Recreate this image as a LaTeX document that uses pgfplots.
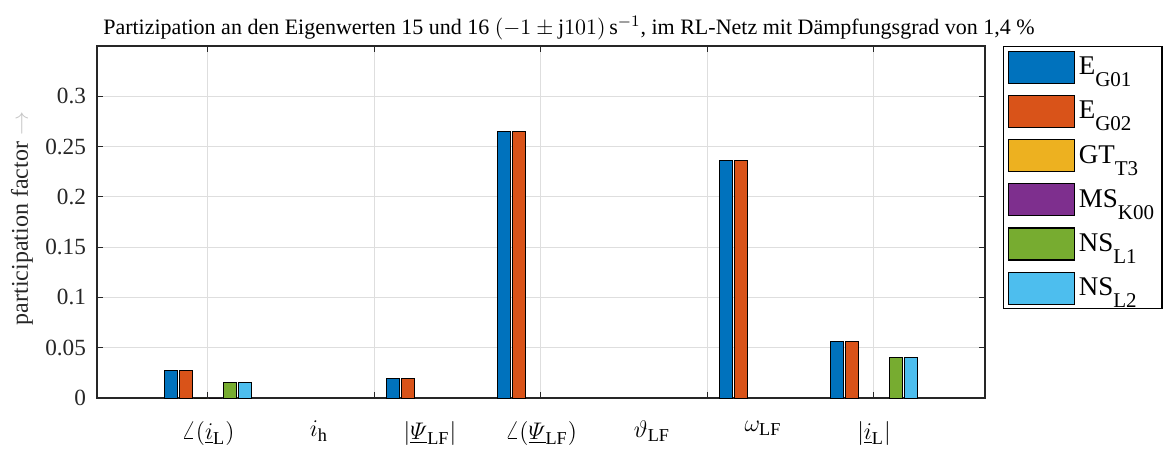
\documentclass[border=0pt]{standalone}
\usepackage{amsmath}
\usepackage{fontspec}
\setmainfont{Liberation Serif}
\usepackage{pgfplots}
\pgfplotsset{compat=1.18}
\definecolor{c1}{rgb}{0,0.447,0.741}
\definecolor{c2}{rgb}{0.85,0.325,0.098}
\definecolor{c3}{rgb}{0.929,0.694,0.125}
\definecolor{c4}{rgb}{0.494,0.184,0.556}
\definecolor{c5}{rgb}{0.466,0.674,0.188}
\definecolor{c6}{rgb}{0.301,0.745,0.933}
\definecolor{axgray}{rgb}{0.15,0.15,0.15}
\definecolor{gridgray}{rgb}{0.87,0.87,0.87}
\newcommand\sub[1]{\raisebox{-6pt}{\fontsize{10.5}{12}\selectfont #1}}
\pgfplotsset{ybar legend/.style={legend image code/.code={\draw[##1,draw=black,line width=0.6pt] (0pt,-8pt) rectangle (33pt,8pt);}}}
\begin{document}
\begin{tikzpicture}
\useasboundingbox (-48.5pt,-27pt) rectangle (535pt,199pt);
\begin{axis}[
 at={(0,0)}, anchor=south west,
 scale only axis, width=444pt, height=176pt,
 xmin=0, xmax=8, ymin=0, ymax=0.35,
 ybar, bar width=6.5pt,
 xtick={1,2.5,4,5.5,7}, xticklabels={},
 extra x ticks={1,2,3,4,5,6,7},
 extra x tick labels={$\angle(\underline{i}_\mathrm{L})$, $i_\mathrm{h}$, $|\underline{\varPsi}_\mathrm{LF}|$, $\angle(\underline{\varPsi}_\mathrm{LF})$, $\vartheta_\mathrm{LF}$, $\omega_\mathrm{LF}$, $|\underline{i}_\mathrm{L}|$},
 extra x tick style={grid=none, major tick length=0pt, tick label style={font=\fontsize{13}{15}\selectfont, text=black, yshift=-8pt}},
 ytick={0,0.05,0.1,0.15,0.2,0.25,0.3},
 yticklabels={0,0.05,0.1,0.15,0.2,0.25,0.3},
 yticklabel style={font=\fontsize{11.6}{13}\selectfont, text=axgray, xshift=-2pt},
 tick pos=both, tick align=inside, major tick length=3pt,
 tick style={axgray, line width=0.5pt},
 axis line style={axgray, line width=0.6pt},
 grid=major, major grid style={gridgray, line width=0.5pt},
 ylabel={participation factor \textcolor{gray!45}{$\rightarrow$}},
 ylabel style={font=\fontsize{12}{14}\selectfont, text=axgray, at={(axis description cs:-0.0845,0.51)}, anchor=center},
 title={Partizipation an den Eigenwerten 15 und 16 $(-1\pm\mathrm{j}101)\,\mathrm{s}^{-1}$, im RL-Netz mit Dämpfungsgrad von 1,4~\%},
 title style={font=\fontsize{11}{14}\selectfont, at={(axis description cs:0.5,1)}, anchor=base, xshift=14pt, yshift=0pt},
 legend style={at={(rel axis cs:1.0203,1.0)}, anchor=north west, draw=black, line width=0.6pt, font=\fontsize{13.5}{15}\selectfont, inner sep=2pt, row sep=5.5pt, nodes={inner sep=2pt}, cells={anchor=west}},
]
\addplot[fill=c1, draw=black, line width=0.5pt, bar shift=-18.375pt] coordinates {(1,0.027) (3,0.019) (4,0.265) (6,0.236) (7,0.056)};
\addplot[fill=c2, draw=black, line width=0.5pt, bar shift=-11.025pt] coordinates {(1,0.027) (3,0.019) (4,0.265) (6,0.236) (7,0.056)};
\addplot[fill=c3, draw=black, line width=0.5pt, bar shift=-3.675pt] coordinates {(1,0)};
\addplot[fill=c4, draw=black, line width=0.5pt, bar shift=3.675pt] coordinates {(1,0)};
\addplot[fill=c5, draw=black, line width=0.5pt, bar shift=11.025pt] coordinates {(1,0.015) (7,0.040)};
\addplot[fill=c6, draw=black, line width=0.5pt, bar shift=18.375pt] coordinates {(1,0.015) (7,0.040)};
\legend{E\sub{G01}, E\sub{G02}, GT\sub{T3}, MS\sub{K00}, NS\sub{L1}, NS\sub{L2}}
\end{axis}
\end{tikzpicture}
\end{document}
